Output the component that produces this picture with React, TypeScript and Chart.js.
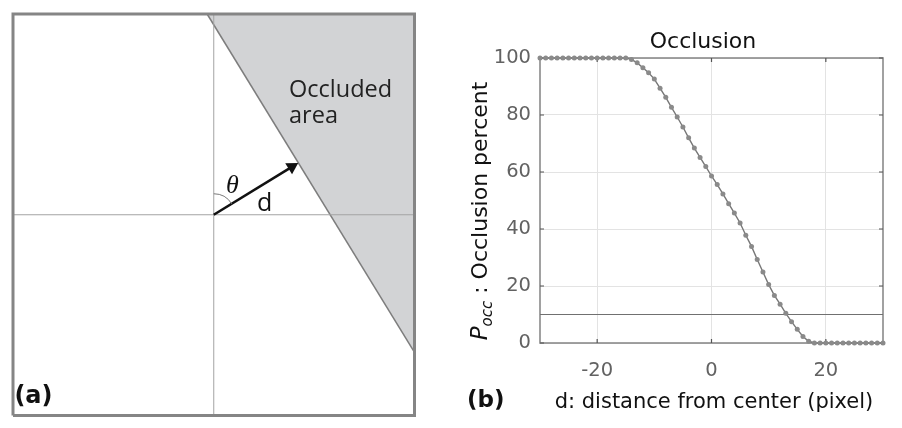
import React, { useEffect, useRef } from 'react';
import { Chart, registerables } from 'chart.js';
Chart.register(...registerables);

// ---------- Panel (b) data ----------
const distance = [
  -30, -29, -28, -27, -26, -25, -24, -23, -22, -21, -20, -19, -18, -17, -16, -15,
  -14, -13, -12, -11, -10, -9, -8, -7, -6, -5, -4, -3, -2, -1, 0,
  1, 2, 3, 4, 5, 6, 7, 8, 9, 10, 11, 12, 13, 14, 15, 16, 17,
  18, 19, 20, 21, 22, 23, 24, 25, 26, 27, 28, 29, 30,
];
const occlusionPercent = [
  100, 100, 100, 100, 100, 100, 100, 100, 100, 100, 100, 100, 100, 100, 100, 100,
  99.5, 98.3, 96.6, 94.8, 92.6, 89.4, 86.2, 82.7, 79.3, 75.8, 72.0, 68.4, 65.1, 61.9, 58.6,
  55.6, 52.3, 48.9, 45.6, 42.1, 37.8, 33.9, 29.3, 24.9, 20.5, 16.7, 13.6, 10.4, 7.5, 4.8, 2.3, 0.6,
  0, 0, 0, 0, 0, 0, 0, 0, 0, 0, 0, 0, 0,
];
const thresholdX = [-30, 30];
const thresholdY = [10, 10];
const xTickValues = [-20, 0, 20];
const yTickValues = [0, 20, 40, 60, 80, 100];

// ---------- Panel (a) geometry (unit square from -1 to 1) ----------
const frameX = [-1, -1, 1, 1, -1];
const frameY = [-1, 1, 1, -1, -1];
const crossHX = [-1, 1];
const crossHY = [0, 0];
const crossVX = [0, 0];
const crossVY = [-1, 1];
const occludedX = [-0.033, 1, 1];
const occludedY = [1, 1, -0.686];
const edgeX = [-0.033, 1];
const edgeY = [1, -0.686];
const arrowX = [0, 0.389];
const arrowY = [0, 0.2385];
const thetaDeg = 58.5;

const pts = (xs: number[], ys: number[]) => xs.map((x, i) => ({ x, y: ys[i] }));

function PanelA() {
  const ref = useRef<HTMLCanvasElement>(null);
  useEffect(() => {
    const textPlugin = {
      id: 'panelAText',
      afterDatasetsDraw(chart: any) {
        const { ctx, scales } = chart;
        const X = (v: number) => scales.x.getPixelForValue(v);
        const Y = (v: number) => scales.y.getPixelForValue(v);
        ctx.save();
        // theta arc
        ctx.strokeStyle = '#7a7a7a';
        ctx.lineWidth = 1;
        ctx.beginPath();
        ctx.arc(X(0), Y(0), 21, -Math.PI / 2, -Math.PI / 2 + (thetaDeg * Math.PI) / 180);
        ctx.stroke();
        ctx.fillStyle = '#222';
        ctx.textBaseline = 'alphabetic';
        ctx.textAlign = 'left';
        ctx.font = '23.5px "Open Sans"';
        ctx.fillText('Occluded', X(0.375), Y(0.587));
        ctx.fillText('area', X(0.375), Y(0.457));
        ctx.fillStyle = '#111';
        ctx.textAlign = 'center';
        ctx.font = 'italic 26px "Liberation Serif"';
        ctx.fillText('θ', X(0.093), Y(0.11));
        ctx.font = '25px "Open Sans"';
        ctx.fillText('d', X(0.253), Y(0.019));
        ctx.textAlign = 'left';
        ctx.font = 'bold 24px "DejaVu Sans"';
        ctx.fillText('(a)', X(-0.993), Y(-0.94));
        ctx.restore();
      },
    };
    const chart = new Chart(ref.current!, {
      type: 'scatter',
      data: {
        datasets: [
          { data: pts(frameX, frameY), showLine: true, borderColor: '#858585', borderWidth: 3, pointRadius: 0, borderJoinStyle: 'miter', clip: false, order: 0 } as any,
          { data: pts(arrowX, arrowY), showLine: true, borderColor: '#111', backgroundColor: '#111', borderWidth: 2.6, pointRadius: [0, 7.5], pointStyle: 'triangle', rotation: thetaDeg, pointBorderWidth: 0, clip: false, order: 1 } as any,
          { data: pts(crossHX, crossHY), showLine: true, borderColor: '#a3a3a3', borderWidth: 1, pointRadius: 0, clip: false, order: 2 } as any,
          { data: pts(crossVX, crossVY), showLine: true, borderColor: '#a3a3a3', borderWidth: 1, pointRadius: 0, clip: false, order: 2 } as any,
          { data: pts(edgeX, edgeY), showLine: true, borderColor: '#7d7d7d', borderWidth: 1.5, pointRadius: 0, clip: false, order: 3 } as any,
          { data: pts(occludedX, occludedY), showLine: true, borderWidth: 0, borderColor: 'rgba(0,0,0,0)', backgroundColor: '#d2d3d5', fill: 'shape', pointRadius: 0, clip: false, order: 10 } as any,
        ],
      },
      options: {
        responsive: false,
        animation: false,
        layout: { padding: { left: 13, top: 14, right: 25.5, bottom: 12.5 } },
        plugins: { legend: { display: false }, tooltip: { enabled: false } },
        scales: {
          x: { type: 'linear', min: -1, max: 1, display: false },
          y: { type: 'linear', min: -1, max: 1, display: false },
        },
      },
      plugins: [textPlugin],
    });
    return () => chart.destroy();
  }, []);
  return <canvas ref={ref} width={440} height={428} style={{ position: 'absolute', left: 0, top: 0, width: 440, height: 428 }} />;
}

function PanelB() {
  const ref = useRef<HTMLCanvasElement>(null);
  useEffect(() => {
    const deco = {
      id: 'panelBDeco',
      beforeDatasetsDraw(chart: any) {
        const { ctx, chartArea: a, scales } = chart;
        ctx.save();
        ctx.strokeStyle = '#8a8a8a';
        ctx.lineWidth = 1.6;
        ctx.strokeRect(a.left, a.top, a.right - a.left, a.bottom - a.top);
        ctx.strokeStyle = '#555';
        ctx.lineWidth = 1.2;
        ctx.beginPath();
        xTickValues.forEach((v) => {
          const px = scales.x.getPixelForValue(v);
          ctx.moveTo(px, a.bottom); ctx.lineTo(px, a.bottom - 4);
          ctx.moveTo(px, a.top); ctx.lineTo(px, a.top + 4);
        });
        yTickValues.forEach((v) => {
          const py = scales.y.getPixelForValue(v);
          ctx.moveTo(a.left, py); ctx.lineTo(a.left + 4, py);
          ctx.moveTo(a.right, py); ctx.lineTo(a.right - 4, py);
        });
        ctx.stroke();
        ctx.restore();
      },
      afterDraw(chart: any) {
        const { ctx } = chart;
        ctx.save();
        ctx.fillStyle = '#111';
        ctx.textBaseline = 'alphabetic';
        ctx.textAlign = 'center';
        ctx.font = '22px "DejaVu Sans"';
        ctx.fillText('Occlusion', 243, 48);
        ctx.font = '21px "DejaVu Sans"';
        ctx.fillText('d: distance from center (pixel)', 254, 408);
        ctx.textAlign = 'left';
        ctx.font = 'bold 23px "DejaVu Sans"';
        ctx.fillText('(b)', 7, 407);
        // y title, rotated
        const big = '22px "DejaVu Sans"';
        const bigIt = 'italic 23px "DejaVu Sans"';
        const sub = 'italic 15px "DejaVu Sans"';
        const parts = [
          { t: 'P', f: bigIt, dy: 0 },
          { t: 'occ', f: sub, dy: 5 },
          { t: ' : Occlusion percent', f: big, dy: 0 },
        ];
        let total = 0;
        parts.forEach((p) => { ctx.font = p.f; total += ctx.measureText(p.t).width; });
        ctx.translate(27, 211);
        ctx.rotate(-Math.PI / 2);
        let x = -total / 2;
        parts.forEach((p) => {
          ctx.font = p.f;
          ctx.fillText(p.t, x, p.dy);
          x += ctx.measureText(p.t).width;
        });
        ctx.restore();
      },
    };
    const chart = new Chart(ref.current!, {
      type: 'scatter',
      data: {
        datasets: [
          {
            data: pts(distance, occlusionPercent), showLine: true, borderColor: '#777', borderWidth: 1.4,
            pointRadius: 2.5, pointBackgroundColor: '#8a8a8a', pointBorderWidth: 0, clip: false, order: 0,
          } as any,
          {
            data: pts(thresholdX, thresholdY), showLine: true, borderColor: '#707070', borderWidth: 1,
            pointRadius: 0, clip: false, order: 1,
          } as any,
        ],
      },
      options: {
        responsive: false,
        animation: false,
        layout: { padding: { left: 0, top: 58, right: 19, bottom: 0 } },
        plugins: { legend: { display: false }, tooltip: { enabled: false } },
        scales: {
          x: {
            type: 'linear', min: -30, max: 30,
            afterBuildTicks: (s: any) => { s.ticks = xTickValues.map((v) => ({ value: v })); },
            afterFit: (s: any) => { s.height = 85; },
            grid: { color: '#e3e3e3', lineWidth: 1, drawTicks: false },
            border: { display: false },
            ticks: { color: '#626262', font: { family: 'DejaVu Sans', size: 19.5 }, padding: 16, maxRotation: 0 },
          },
          y: {
            type: 'linear', min: 0, max: 100,
            afterBuildTicks: (s: any) => { s.ticks = yTickValues.map((v) => ({ value: v })); },
            afterFit: (s: any) => { s.width = 80; },
            grid: { color: '#e3e3e3', lineWidth: 1, drawTicks: false },
            border: { display: false },
            ticks: { color: '#626262', font: { family: 'DejaVu Sans', size: 19.5 }, padding: 9 },
          },
        },
      },
      plugins: [deco],
    });
    return () => chart.destroy();
  }, []);
  return <canvas ref={ref} width={442} height={428} style={{ position: 'absolute', left: 460, top: 0, width: 442, height: 428 }} />;
}

export default function App() {
  return (
    <div style={{ position: 'absolute', left: 0, top: 0, width: 902, height: 428, background: '#fff', overflow: 'hidden' }}>
      <PanelA />
      <PanelB />
    </div>
  );
}
